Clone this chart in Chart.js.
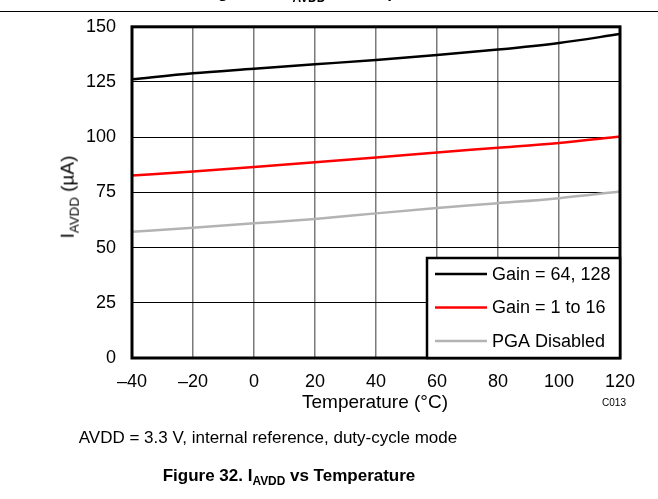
<!DOCTYPE html>
<html>
<head>
<meta charset="utf-8">
<script src="https://cdn.jsdelivr.net/npm/chart.js"></script>
<style>
  body { margin: 0; background: #fff; font-family: "Liberation Sans", Arial, sans-serif; }
  #wrap { position: relative; width: 658px; height: 499px; overflow: hidden; }
  canvas { position: absolute; left: 0; top: 0; }
  .txt { position: absolute; color: #000; white-space: nowrap; }
  sub { font-size: 70%; vertical-align: -0.35em; }
</style>
</head>
<body>
<div id="wrap">
  <canvas id="myChart" width="658" height="499"></canvas>
  <div class="txt" style="left:0;top:-17px;width:658px;text-align:center;font-weight:bold;font-size:17px;">Figure 31. I<sub>AVDD</sub> vs Temperature</div>
  <div class="txt" style="left:0;top:11px;width:658px;height:0;border-top:1.5px solid #000;"></div>
  <div class="txt" style="left:69px;top:197px;font-size:19px;transform:translate(-50%,-50%) rotate(-90deg);">I<sub>AVDD</sub> (µA)</div>
  <div class="txt" style="left:375px;top:402px;font-size:19px;transform:translate(-50%,-50%);">Temperature (°C)</div>
  <div class="txt" style="left:614px;top:402px;font-size:10px;transform:translate(-50%,-50%);">C013</div>
  <div class="txt" style="left:268px;top:438px;font-size:17px;transform:translate(-50%,-50%);">AVDD = 3.3 V, internal reference, duty-cycle mode</div>
  <div class="txt" style="left:289px;top:477px;font-size:17px;font-weight:bold;transform:translate(-50%,-50%);">Figure 32. I<sub>AVDD</sub> vs Temperature</div>
</div>
<script>
var temps = [-40, -20, 0, 20, 40, 60, 80, 100, 120];
var gain64 = [126.2, 129.0, 131.0, 133.0, 135.0, 137.2, 139.7, 142.7, 146.7];
var gain1 = [82.6, 84.5, 86.5, 88.6, 90.8, 93.1, 95.2, 97.4, 100.3];
var pgaOff = [57.2, 59.0, 61.0, 63.0, 65.5, 67.9, 70.1, 72.4, 75.4];
var seriesNames = ['Gain = 64, 128', 'Gain = 1 to 16', 'PGA Disabled'];
var xTicks = [-40, -20, 0, 20, 40, 60, 80, 100, 120];
var yTicks = [0, 25, 50, 75, 100, 125, 150];

function pts(ys) {
  return temps.map(function (t, i) { return { x: t, y: ys[i] }; });
}

var font18 = { family: '"Liberation Sans", Arial, sans-serif', size: 18 };

// thick frame around the plot area
var framePlugin = {
  id: 'frame',
  afterDatasetsDraw: function (chart) {
    var a = chart.chartArea, c = chart.ctx;
    c.save();
    c.strokeStyle = '#000';
    c.lineWidth = 3;
    c.strokeRect(a.left, a.top, a.right - a.left, a.bottom - a.top);
    c.restore();
  }
};

// legend box in the lower right corner
var boxLegend = {
  id: 'boxLegend',
  afterDraw: function (chart) {
    var a = chart.chartArea, c = chart.ctx;
    var x0 = 427, y0 = 258, x1 = a.right, y1 = a.bottom;
    c.save();
    c.fillStyle = '#fff';
    c.fillRect(x0, y0, x1 - x0, y1 - y0);
    c.strokeStyle = '#000';
    c.lineWidth = 2.5;
    c.strokeRect(x0, y0, x1 - x0, y1 - y0);
    c.font = '18px "Liberation Sans", Arial, sans-serif';
    c.textBaseline = 'middle';
    chart.data.datasets.forEach(function (ds, i) {
      var y = 274 + i * 33.5;
      c.strokeStyle = ds.borderColor;
      c.lineWidth = 2.5;
      c.beginPath();
      c.moveTo(435, y);
      c.lineTo(487, y);
      c.stroke();
      c.fillStyle = '#000';
      c.fillText(ds.label, 492, y + 1);
    });
    c.restore();
  }
};

var ctx = document.getElementById('myChart').getContext('2d');
var myChart = new Chart(ctx, {
  type: 'line',
  data: {
    datasets: [
      { label: seriesNames[0], data: pts(gain64), borderColor: '#000000', borderWidth: 2.5 },
      { label: seriesNames[1], data: pts(gain1), borderColor: '#ff0000', borderWidth: 2.5 },
      { label: seriesNames[2], data: pts(pgaOff), borderColor: '#b3b3b3', borderWidth: 2.5 }
    ]
  },
  options: {
    responsive: false,
    animation: false,
    layout: { padding: { left: 0, right: 38, top: 26, bottom: 101 } },
    elements: { point: { radius: 0 }, line: { tension: 0.4, cubicInterpolationMode: 'monotone' } },
    plugins: { legend: { display: false }, tooltip: { enabled: false } },
    scales: {
      x: {
        type: 'linear', min: -40, max: 120,
        afterBuildTicks: function (s) { s.ticks = xTicks.map(function (v) { return { value: v }; }); },
        afterFit: function (s) { s.height = 40; },
        grid: { color: '#7a7a7a', lineWidth: 1.5, drawTicks: false },
        border: { display: false },
        ticks: {
          color: '#000', font: font18, padding: 13, maxRotation: 0,
          callback: function (v) { return v < 0 ? '\u2013' + Math.abs(v) : String(v); }
        }
      },
      y: {
        min: 0, max: 150,
        afterBuildTicks: function (s) { s.ticks = yTicks.map(function (v) { return { value: v }; }); },
        afterFit: function (s) { s.width = 132; },
        grid: { color: '#000', lineWidth: 1, drawTicks: false },
        border: { display: false },
        ticks: { color: '#000', font: font18, padding: 16 }
      }
    }
  },
  plugins: [framePlugin, boxLegend]
});
</script>
</body>
</html>
